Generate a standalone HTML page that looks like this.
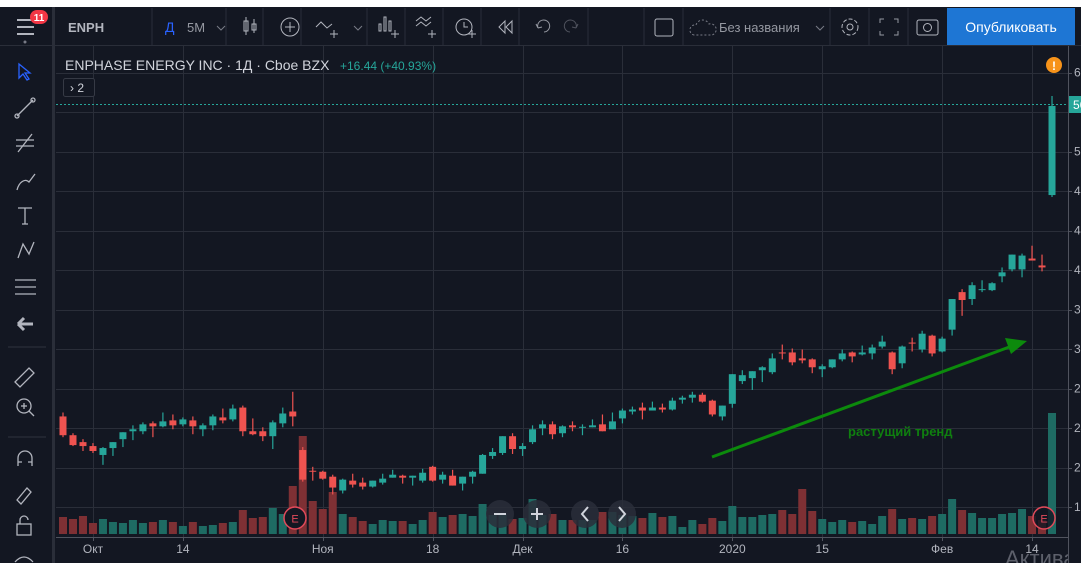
<!DOCTYPE html>
<html><head><meta charset="utf-8">
<style>
html,body{margin:0;padding:0;background:#131722;width:1081px;height:563px;overflow:hidden;font-family:"Liberation Sans","DejaVu Sans",sans-serif}
svg{display:block}
text{font-family:"Liberation Sans","DejaVu Sans",sans-serif}
</style></head>
<body>
<svg id="root" width="1081" height="563" viewBox="0 0 1081 563" xmlns="http://www.w3.org/2000/svg">
<rect x="0" y="0" width="1081" height="563" fill="#131722"/>
<rect x="0" y="0" width="1081" height="7" fill="#ffffff"/>
<!-- top toolbar -->
<g>
<line x1="0" y1="45.5" x2="1081" y2="45.5" stroke="#2a2e39"/>
<line x1="53.5" y1="7" x2="53.5" y2="563" stroke="#2a2e39" stroke-width="3"/>
<g stroke="#b2b5be" stroke-width="2"><line x1="17" y1="20" x2="34" y2="20"/><line x1="17" y1="27" x2="34" y2="27"/><line x1="17" y1="34" x2="34" y2="34"/></g>
<circle cx="25" cy="42" r="1.5" fill="#787b86"/>
<g><rect x="30" y="10" width="18" height="14" rx="7" fill="#f23645"/><text x="39" y="21" fill="#fff" font-size="10" text-anchor="middle" font-weight="bold">11</text></g>
<text x="68" y="32" fill="#b2b5be" font-size="13" font-weight="bold">ENPH</text>
<line x1="152" y1="8" x2="152" y2="45" stroke="#2a2e39"/>
<text x="165" y="32" fill="#2962ff" font-size="14">Д</text>
<text x="187" y="32" fill="#9598a1" font-size="13">5M</text>
<path d="M217 26 l4 4 l4 -4" stroke="#787b86" fill="none"/>
<line x1="226" y1="8" x2="226" y2="45" stroke="#2a2e39"/>
<g stroke="#b2b5be" fill="none"><rect x="244" y="21" width="4" height="10"/><line x1="246" y1="17" x2="246" y2="35"/><rect x="252" y="24" width="4" height="6"/><line x1="254" y1="19" x2="254" y2="33"/></g>
<line x1="263" y1="8" x2="263" y2="45" stroke="#2a2e39"/>
<g stroke="#b2b5be" fill="none"><circle cx="290" cy="27" r="9"/><line x1="285" y1="27" x2="295" y2="27"/><line x1="290" y1="22" x2="290" y2="32"/></g>
<line x1="301" y1="8" x2="301" y2="45" stroke="#2a2e39"/>
<g stroke="#b2b5be" fill="none"><path d="M316 27 l5 -5 l6 6 l5 -4"/><line x1="330" y1="34" x2="338" y2="34"/><line x1="334" y1="30" x2="334" y2="38"/><path d="M354 26 l4 4 l4 -4" stroke="#787b86"/></g>
<line x1="367" y1="8" x2="367" y2="45" stroke="#2a2e39"/>
<g stroke="#b2b5be" fill="none"><rect x="379" y="24" width="2" height="7"/><rect x="384" y="17" width="2" height="14"/><rect x="389" y="21" width="2" height="10"/><line x1="391" y1="34" x2="399" y2="34"/><line x1="395" y1="30" x2="395" y2="38"/></g>
<line x1="405" y1="8" x2="405" y2="45" stroke="#2a2e39"/>
<g stroke="#b2b5be" fill="none"><path d="M416 21 l5 -4 l5 4 l5 -4"/><path d="M416 26 l5 -4 l5 4 l5 -4"/><line x1="428" y1="34" x2="436" y2="34"/><line x1="432" y1="30" x2="432" y2="38"/></g>
<line x1="443" y1="8" x2="443" y2="45" stroke="#2a2e39"/>
<g stroke="#b2b5be" fill="none"><circle cx="464" cy="27" r="8"/><path d="M464 22 v5 h4"/><line x1="468" y1="34" x2="476" y2="34"/><line x1="472" y1="30" x2="472" y2="38"/></g>
<line x1="481" y1="8" x2="481" y2="45" stroke="#2a2e39"/>
<g stroke="#b2b5be" fill="none"><path d="M505 21 l-6 6 l6 6 z"/><path d="M512 21 l-6 6 l6 6 z"/></g>
<line x1="519" y1="8" x2="519" y2="45" stroke="#2a2e39"/>
<path d="M538 28 a6 6 0 1 1 6 4 M538 28 l-2 -4 M538 28 l4 -1" stroke="#9598a1" fill="none"/>
<path d="M576 28 a6 6 0 1 0 -6 4 M576 28 l2 -4 M576 28 l-4 -1" stroke="#50535e" fill="none"/>
<line x1="588" y1="8" x2="588" y2="45" stroke="#2a2e39"/>
<line x1="644" y1="8" x2="644" y2="45" stroke="#2a2e39"/>
<rect x="655" y="19" width="18" height="17" rx="2" stroke="#b2b5be" fill="none"/>
<line x1="683" y1="8" x2="683" y2="45" stroke="#2a2e39"/>
<g><path d="M694 35 a5 5 0 0 1 2 -10 a7 7 0 0 1 13 -1 a5 5 0 0 1 3 11 z" stroke="#787b86" stroke-dasharray="2 2" fill="none"/><text x="719" y="32" fill="#9598a1" font-size="13">Без названия</text><path d="M816 26 l4 4 l4 -4" stroke="#787b86" fill="none"/></g>
<line x1="830" y1="8" x2="830" y2="45" stroke="#2a2e39"/>
<g stroke="#b2b5be" fill="none"><circle cx="850" cy="27" r="3"/><circle cx="850" cy="27" r="8" stroke-dasharray="4 2"/></g>
<line x1="869" y1="8" x2="869" y2="45" stroke="#2a2e39"/>
<g stroke="#9598a1" fill="none"><path d="M880 23 v-4 h4 M894 19 h4 v4 M880 31 v4 h4 M898 31 v4 h-4"/></g>
<line x1="908" y1="8" x2="908" y2="45" stroke="#2a2e39"/>
<g stroke="#b2b5be" fill="none"><rect x="917" y="20" width="21" height="15" rx="2"/><circle cx="927.5" cy="27.5" r="4"/></g>
<g><rect x="947" y="8" width="128" height="37" fill="#1e76d4"/><text x="1011" y="32" fill="#ffffff" font-size="14" text-anchor="middle">Опубликовать</text></g>
</g>
<!-- left toolbar -->
<g stroke="#b2b5be" fill="none" stroke-width="1.3">
<path d="M19 64 l0 14 l4 -4 l4 6 l2 -1 l-4 -6 l5 0 z" stroke="#2962ff"/>
<g><line x1="17" y1="116" x2="33" y2="100"/><circle cx="17" cy="116" r="2"/><circle cx="33" cy="100" r="2"/></g>
<g><line x1="16" y1="140" x2="34" y2="140"/><line x1="16" y1="146" x2="34" y2="146"/><line x1="18" y1="152" x2="32" y2="134"/></g>
<path d="M17 190 c2 -8 8 -12 12 -8 l6 -8"/>
<path d="M18 208 h14 M25 208 v16 M22 224 h6"/>
<path d="M18 258 l5 -14 l6 10 l5 -12"/>
<g><line x1="15" y1="280" x2="36" y2="280"/><line x1="15" y1="287" x2="36" y2="287"/><line x1="15" y1="294" x2="36" y2="294"/></g>
<path d="M18 324 h15 M18 324 l6 -6 M18 324 l6 6" stroke-width="3"/>
<line x1="8" y1="347" x2="46" y2="347" stroke="#2a2e39"/>
<path d="M15 382 l14 -14 l5 5 l-14 14 z"/>
<g><circle cx="24" cy="406" r="7"/><line x1="29" y1="411" x2="34" y2="416"/><line x1="21" y1="406" x2="27" y2="406"/><line x1="24" y1="403" x2="24" y2="409"/></g>
<line x1="8" y1="437" x2="46" y2="437" stroke="#2a2e39"/>
<path d="M18 466 v-8 a7 7 0 0 1 14 0 v8 M18 462 h4 M28 462 h4"/>
<path d="M17 500 l10 -12 l4 4 l-10 12 z"/>
<g><rect x="17" y="524" width="14" height="11"/><path d="M20 524 v-4 a4 4 0 0 1 8 0"/></g>
<path d="M15 562 q9 -10 18 0"/>
</g>
<!-- chart area -->
<svg x="56" y="46" width="1012" height="517" viewBox="56 46 1012 517" overflow="hidden">
<g id="grid"></g>
<g id="volumes"></g>
<line x1="56" y1="104.5" x2="1068" y2="104.5" stroke="#26a69a" stroke-dasharray="2 2"/>
<g id="candles"></g>
<g>
<line x1="712" y1="457" x2="1012" y2="346" stroke="#0c8a0c" stroke-width="3"/>
<path d="M1027 341 L1005 338 L1011 354 Z" fill="#0c8a0c"/>
</g>
<text x="848" y="436" fill="#0f7f0f" font-size="13" font-weight="bold">растущий тренд</text>
<text x="65" y="70" fill="#d1d4dc" font-size="14">ENPHASE ENERGY INC · 1Д · Cboe BZX</text>
<text x="340" y="70" fill="#26a69a" font-size="12">+16.44 (+40.93%)</text>
<g><rect x="63.5" y="78.5" width="31" height="18" rx="2" fill="#131722" stroke="#363a45"/><text x="70" y="92" fill="#d1d4dc" font-size="12">› 2</text></g>
<g><circle cx="295" cy="518" r="11" fill="#131722" stroke="#e04a5a" stroke-width="1.5"/><text x="295" y="522.5" fill="#e04a5a" font-size="11" text-anchor="middle">E</text></g>
<g><circle cx="1044" cy="518" r="11" fill="#131722" fill-opacity="0.8" stroke="#e04a5a" stroke-width="1.5"/><text x="1044" y="522.5" fill="#e04a5a" font-size="11" text-anchor="middle">E</text></g>
<g><circle cx="500" cy="514" r="14" fill="#2a2e39" fill-opacity="0.85"/><line x1="494" y1="514" x2="506" y2="514" stroke="#d1d4dc" stroke-width="2"/></g>
<g><circle cx="537" cy="514" r="14" fill="#2a2e39" fill-opacity="0.85"/><line x1="531" y1="514" x2="543" y2="514" stroke="#d1d4dc" stroke-width="2"/><line x1="537" y1="508" x2="537" y2="520" stroke="#d1d4dc" stroke-width="2"/></g>
<g><circle cx="585" cy="514" r="14" fill="#2a2e39" fill-opacity="0.85"/><path d="M588 507 l-6 7 l6 7" stroke="#d1d4dc" stroke-width="2" fill="none"/></g>
<g><circle cx="622" cy="514" r="14" fill="#2a2e39" fill-opacity="0.85"/><path d="M619 507 l6 7 l-6 7" stroke="#d1d4dc" stroke-width="2" fill="none"/></g>
<line x1="56" y1="537.5" x2="1068" y2="537.5" stroke="#50535e"/>
<g id="xlabels"></g>
<circle cx="1054" cy="65" r="8" fill="#f7931a"/>
<text x="1054" y="70" fill="#fff" font-size="12" font-weight="bold" text-anchor="middle">!</text>
<text x="1005" y="566" fill="#5d606b" font-size="22">Активац</text>
</svg>
<!-- price axis -->
<line x1="1068.5" y1="46" x2="1068.5" y2="563" stroke="#50535e"/>
<g id="ylabels"></g>
<g><rect x="1069" y="96" width="14" height="17" fill="#26a69a"/><text x="1073" y="109" fill="#fff" font-size="12">56.61</text></g>
</svg>
<script>
const opens=[25.17,23.27,22.57,22.17,21.27,21.97,22.87,23.67,23.67,24.47,24.17,24.77,24.37,24.77,23.87,24.27,25.07,24.87,26.07,23.67,23.67,23.17,24.47,25.67,21.77,19.67,19.57,19.07,17.67,18.67,18.47,18.07,18.47,18.97,19.17,18.97,18.67,20.07,18.77,19.17,18.37,19.07,19.37,21.17,21.47,23.17,21.87,22.57,23.97,24.37,23.47,24.27,24.07,24.07,24.37,23.87,24.97,25.67,26.07,25.77,26.07,25.87,26.87,27.07,27.37,26.77,25.17,26.45,28.75,29.05,29.85,29.65,31.65,31.65,31.05,30.95,29.95,30.15,30.95,31.65,31.45,31.55,32.25,31.65,30.55,32.65,31.95,33.35,31.75,33.96,37.76,37.06,37.96,37.96,39.36,40.06,40.06,41.16,40.46,47.59];
const highs=[25.57,23.47,22.87,22.47,22.07,22.57,23.57,24.27,24.57,24.67,25.57,25.37,25.07,25.17,24.47,25.37,25.97,26.37,26.27,24.97,24.07,24.77,26.07,27.67,22.07,20.07,19.67,19.27,18.87,19.37,18.97,18.67,19.37,19.77,19.27,19.17,19.87,20.17,19.57,19.77,19.07,19.67,21.37,21.97,23.17,23.47,22.47,24.27,24.77,24.67,24.27,24.67,24.37,24.87,25.37,25.57,25.97,26.17,26.57,26.67,26.47,27.07,27.27,27.67,27.57,26.87,26.27,29.45,29.85,29.75,30.25,31.55,32.45,32.05,31.95,31.05,30.45,30.95,31.95,31.75,32.35,32.45,33.35,31.75,32.35,33.15,33.85,33.45,33.25,37.06,38.06,38.76,38.96,38.76,40.26,41.56,41.66,42.46,41.56,57.62];
const lows=[23.07,22.17,21.67,21.47,20.27,21.17,22.07,22.77,23.37,23.07,24.07,23.87,24.17,23.37,23.17,23.77,24.47,24.67,23.17,23.27,22.67,21.87,24.07,24.17,18.57,18.67,18.77,17.27,17.37,17.97,17.77,17.97,18.27,18.97,18.37,18.17,18.47,18.57,18.37,18.17,17.67,18.37,19.37,20.87,21.27,21.37,21.17,22.37,23.27,22.87,23.07,23.67,23.27,24.07,23.67,23.87,24.47,25.37,24.87,25.77,25.57,25.77,26.47,26.57,26.57,25.17,24.77,26.05,28.45,27.85,28.65,29.45,30.95,30.35,30.55,29.55,29.15,30.05,30.75,30.65,31.35,30.95,32.05,29.45,30.05,31.75,31.65,31.25,31.65,33.36,35.36,36.46,37.76,37.86,38.76,39.86,39.26,40.96,39.86,47.39];
const closes=[23.27,22.27,22.17,21.67,21.97,22.57,23.57,23.87,24.37,24.17,24.67,24.27,24.87,24.17,24.27,25.17,24.77,25.97,23.67,23.37,23.17,24.57,25.47,25.17,18.77,19.62,18.87,17.97,18.77,18.27,18.07,18.67,18.87,19.27,18.97,19.17,19.47,18.67,19.27,18.17,19.07,19.57,21.27,21.57,23.17,21.87,22.17,23.87,24.37,23.37,24.17,24.07,24.12,24.27,23.67,24.67,25.77,25.87,25.77,26.07,25.87,26.77,27.07,27.37,26.67,25.37,26.27,29.45,29.35,29.75,30.15,31.05,31.55,30.65,30.85,30.15,30.25,30.95,31.55,31.25,31.65,32.15,32.75,29.95,32.25,32.55,33.55,31.55,33.05,37.06,36.96,38.46,38.06,38.66,39.76,41.56,41.46,40.96,40.26,56.61];
const volumes=[3.4,3.0,3.6,2.2,3.0,2.4,2.2,2.8,2.2,2.4,2.8,2.4,1.6,2.4,1.6,1.8,2.2,2.4,4.8,3.2,3.4,5.2,4.0,9.6,19.6,6.6,5.0,8.4,4.0,3.4,2.6,2.0,2.8,2.6,2.6,2.0,2.8,4.4,3.4,3.8,4.0,3.6,6.0,3.8,4.0,3.0,3.2,7.0,3.8,4.0,2.8,2.8,2.8,2.8,4.4,4.4,3.8,3.6,3.2,4.2,3.4,3.6,1.4,2.8,2.0,3.2,2.6,5.6,3.4,3.4,3.8,4.0,4.8,4.0,9.0,4.6,3.0,2.4,2.8,2.4,2.6,2.0,3.6,5.0,3.0,3.2,3.0,3.6,4.0,7.0,4.8,4.2,3.2,3.2,4.0,4.2,5.0,3.6,2.8,24.2];
const tickIndex=[3,12,26,37,46,56,67,76,88,97];
const tickLabels=["Окт","14","Ноя","18","Дек","16","2020","15","Фев","14"];
const priceTicks=[60,56,52,48,44,40,36,32,28,24,20,16];

const NS="http://www.w3.org/2000/svg";
const X0=63,STEP=9.99;
function xOf(i){return X0+i*STEP;}
function yOf(p){return 270-(p-40)*9.875;}
function vOf(v){return 534-v*5;}
function mk(tag,attrs,parent){const e=document.createElementNS(NS,tag);for(const k in attrs)e.setAttribute(k,attrs[k]);parent.appendChild(e);return e;}

const grid=document.getElementById('grid');
priceTicks.forEach(p=>{
  const l=mk('line',{x1:56,x2:1068,y1:Math.round(yOf(p))+0.5,y2:Math.round(yOf(p))+0.5,stroke:'#2a2e39'},grid);
  
  
});
tickIndex.forEach(i=>{
  const l=mk('line',{x1:Math.round(xOf(i))+0.5,x2:Math.round(xOf(i))+0.5,y1:46,y2:537,stroke:'#2a2e39'},grid);
  
  
});
const xl=document.getElementById('xlabels');
tickIndex.forEach((i,k)=>{
  const t=mk('text',{x:xOf(i),y:553,fill:'#b2b5be','font-size':12,'text-anchor':'middle'},xl);
  t.textContent=tickLabels[k];
  
  
  mk('line',{x1:Math.round(xOf(i))+0.5,x2:Math.round(xOf(i))+0.5,y1:537,y2:541,stroke:'#50535e'},xl);
});
const yl=document.getElementById('ylabels');
priceTicks.forEach(p=>{
  const y=yOf(p);
  if(Math.abs(y-104)<10)return;
  mk('line',{x1:1068,x2:1072,y1:Math.round(y)+0.5,y2:Math.round(y)+0.5,stroke:'#50535e'},yl);
  const t=mk('text',{x:1074,y:y+4,fill:'#b2b5be','font-size':12},yl);
  t.textContent=p.toFixed(2);
  
  
});
const vg=document.getElementById('volumes');
volumes.forEach((v,i)=>{
  const up=closes[i]>=opens[i];
  const r=mk('rect',{x:xOf(i)-4,y:vOf(v),width:8,height:534-vOf(v),fill:up?'#1e6b63':'#7e3034'},vg);
  
  
});
const cg=document.getElementById('candles');
opens.forEach((o,i)=>{
  const c=closes[i],up=c>=o,col=up?'#26a69a':'#ef5350',x=xOf(i);
  const g=mk('g',{},cg);
  
  
  mk('line',{x1:x,x2:x,y1:yOf(highs[i]),y2:yOf(lows[i]),stroke:col,'stroke-width':1.2},g);
  const top=yOf(Math.max(o,c)),bot=yOf(Math.min(o,c));
  mk('rect',{x:x-3.5,y:top,width:7,height:Math.max(1,bot-top),fill:col},g);
});
</script>
</body></html>
